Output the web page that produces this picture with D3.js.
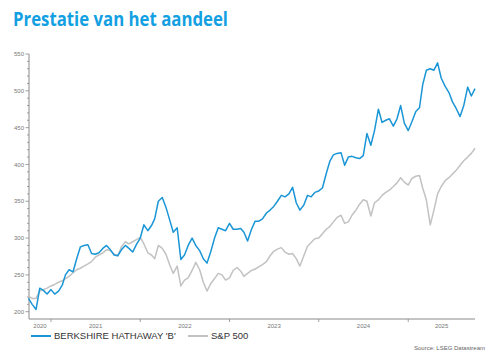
<!DOCTYPE html>
<html>
<head>
<meta charset="utf-8">
<script src="https://cdn.jsdelivr.net/npm/d3@7"></script>
<style>
  body { margin: 0; background: #fff; }
  svg { display: block; }
</style>
</head>
<body>
<div id="chart"></div>
<script>
// semi-monthly closes (1st and 16th), Oct 2020 - Oct 2025
var startDate = new Date(Date.UTC(2020, 9, 1));

var brkValues = [
  218, 210, 203, 232, 229, 224, 230, 224, 228, 236,
  250, 257, 254, 272, 288, 290, 291, 279, 278, 280,
  286, 290, 284, 277, 276, 284, 290, 286, 281, 291,
  300, 318, 310, 317, 326, 350, 355, 342, 325, 308,
  314, 271, 277, 290, 300, 290, 283, 272, 266, 281,
  300, 314, 312, 310, 320, 312, 312, 313, 308, 296,
  312, 323, 323, 326, 334, 338, 343, 350, 358, 356,
  360, 369, 348, 338, 345, 358, 356, 362, 364, 368,
  388, 405, 413, 415, 416, 399, 410, 411, 409, 408,
  412, 442, 426, 446, 475, 457, 460, 462, 452, 462,
  480, 456, 446, 458, 472, 477, 508, 528, 530, 528,
  538, 517, 506, 498, 485, 476, 465, 480, 505, 493,
  503
];

var spxValues = [
  221, 218, 218, 228, 230, 232, 235, 237, 240, 242,
  245, 248, 253, 257, 259, 262, 265, 268, 274, 277,
  280, 284, 283, 278, 276, 288, 295, 292, 295, 298,
  301, 292, 280, 277, 272, 290, 286, 278, 264, 252,
  262, 235, 243, 246, 256, 267, 257, 240, 228, 238,
  245, 252, 250, 243, 246, 256, 260, 255, 248, 252,
  256, 258, 261, 264, 268, 276, 282, 285, 287, 281,
  278, 279, 272, 262, 276, 289, 294, 299, 300, 306,
  312, 316, 322, 328, 331, 320, 322, 331, 338, 346,
  352, 350, 330, 348, 352, 358, 362, 365, 370, 375,
  382, 376, 372, 381, 384, 385, 368, 352, 318, 338,
  360, 370, 378, 382, 387, 392, 399, 405, 410, 415,
  422
];

var yearLabels = ["2020", "2021", "2022", "2023", "2024", "2025"];
var seriesNames = ["BERKSHIRE HATHAWAY 'B'", "S&P 500"];
var seriesColors = ["#1a96d6", "#c2c2c2"];

var width = 503, height = 354;
var plotLeft = 29, plotRight = 475, plotTop = 54, plotBottom = 319;

var dates = brkValues.map(function(d, i) {
  return new Date(Date.UTC(2020, 9 + Math.floor(i / 2), i % 2 ? 16 : 1));
});

var svg = d3.select("#chart").append("svg")
  .attr("width", width)
  .attr("height", height);

// Title
svg.append("text")
  .attr("x", 13)
  .attr("y", 25.5)
  .attr("fill", "#13a0e2")
  .style("font-family", "'Open Sans', 'Noto Sans', sans-serif")
  .style("font-weight", "bold")
  .style("font-size", "19px")
  .attr("textLength", 215)
  .attr("lengthAdjust", "spacingAndGlyphs")
  .text("Prestatie van het aandeel");

var x = d3.scaleUtc()
  .domain([startDate, new Date(Date.UTC(2025, 9, 1))])
  .range([plotLeft - 0.5, plotRight]);

var y = d3.scaleLinear()
  .domain([200, 550])
  .range([311.7, plotTop]);

// Y axis with minor ticks
var yAxis = svg.append("g")
  .attr("transform", "translate(" + plotLeft + ",0)");
yAxis.append("line")
  .attr("y1", plotTop).attr("y2", plotBottom)
  .attr("stroke", "#8a8a8a").attr("stroke-width", 1);
yAxis.selectAll(".minor")
  .data(d3.range(200, 551, 10))
  .enter().append("line")
    .attr("x1", function(d) { return d % 50 === 0 ? -3.5 : -2; })
    .attr("x2", 0)
    .attr("y1", function(d) { return y(d); })
    .attr("y2", function(d) { return y(d); })
    .attr("stroke", "#8a8a8a").attr("stroke-width", 0.8);
yAxis.selectAll(".lbl")
  .data(d3.range(200, 551, 50))
  .enter().append("text")
    .attr("x", -5)
    .attr("y", function(d) { return y(d); })
    .attr("dy", "0.35em")
    .attr("text-anchor", "end")
    .attr("fill", "#777")
    .style("font-family", "'Liberation Sans', Arial, sans-serif")
    .style("font-size", "6px")
    .text(function(d) { return d; });

// X axis: ticks at year boundaries, labels mid-year
var xAxis = svg.append("g")
  .attr("transform", "translate(0," + plotBottom + ")");
xAxis.append("line")
  .attr("x1", plotLeft).attr("x2", plotRight)
  .attr("stroke", "#8a8a8a").attr("stroke-width", 1);
var yearStarts = d3.range(2021, 2026).map(function(yr) { return new Date(Date.UTC(yr, 0, 1)); });
xAxis.selectAll(".tick")
  .data(yearStarts)
  .enter().append("line")
    .attr("x1", function(d) { return x(d); })
    .attr("x2", function(d) { return x(d); })
    .attr("y1", 0).attr("y2", 3)
    .attr("stroke", "#8a8a8a").attr("stroke-width", 0.8);
xAxis.selectAll(".lbl")
  .data(yearLabels)
  .enter().append("text")
    .attr("x", function(d, i) {
      var a = i === 0 ? plotLeft : x(yearStarts[i - 1]);
      var b = i === yearLabels.length - 1 ? plotRight : x(yearStarts[i]);
      return (a + b) / 2;
    })
    .attr("y", 8.5)
    .attr("text-anchor", "middle")
    .attr("fill", "#777")
    .style("font-family", "'Liberation Sans', Arial, sans-serif")
    .style("font-size", "6px")
    .text(function(d) { return d; });

// Lines
var line = d3.line()
  .x(function(d, i) { return x(dates[i]); })
  .y(function(d) { return y(d); });

svg.append("path")
  .datum(spxValues)
  .attr("fill", "none")
  .attr("stroke", seriesColors[1])
  .attr("stroke-width", 1.5)
  .attr("stroke-linejoin", "round")
  .attr("d", line);

svg.append("path")
  .datum(brkValues)
  .attr("fill", "none")
  .attr("stroke", seriesColors[0])
  .attr("stroke-width", 1.5)
  .attr("stroke-linejoin", "round")
  .attr("d", line);

// Legend
var legendX = [31, 188];
var legend = svg.selectAll(".legend")
  .data(seriesNames)
  .enter().append("g")
    .attr("transform", function(d, i) { return "translate(" + legendX[i] + ",336)"; });
legend.append("line")
  .attr("x1", 0).attr("x2", 20)
  .attr("stroke", function(d, i) { return seriesColors[i]; })
  .attr("stroke-width", 2);
legend.append("text")
  .attr("x", 23)
  .attr("dy", "0.35em")
  .attr("fill", "#333")
  .style("font-family", "'Liberation Sans', Arial, sans-serif")
  .style("font-size", "9.5px")
  .text(function(d) { return d; });

// Source
svg.append("text")
  .attr("x", 485)
  .attr("y", 350)
  .attr("text-anchor", "end")
  .attr("fill", "#666")
  .style("font-family", "'Liberation Sans', Arial, sans-serif")
  .style("font-size", "6px")
  .text("Source: LSEG Datastream");
</script>
</body>
</html>
